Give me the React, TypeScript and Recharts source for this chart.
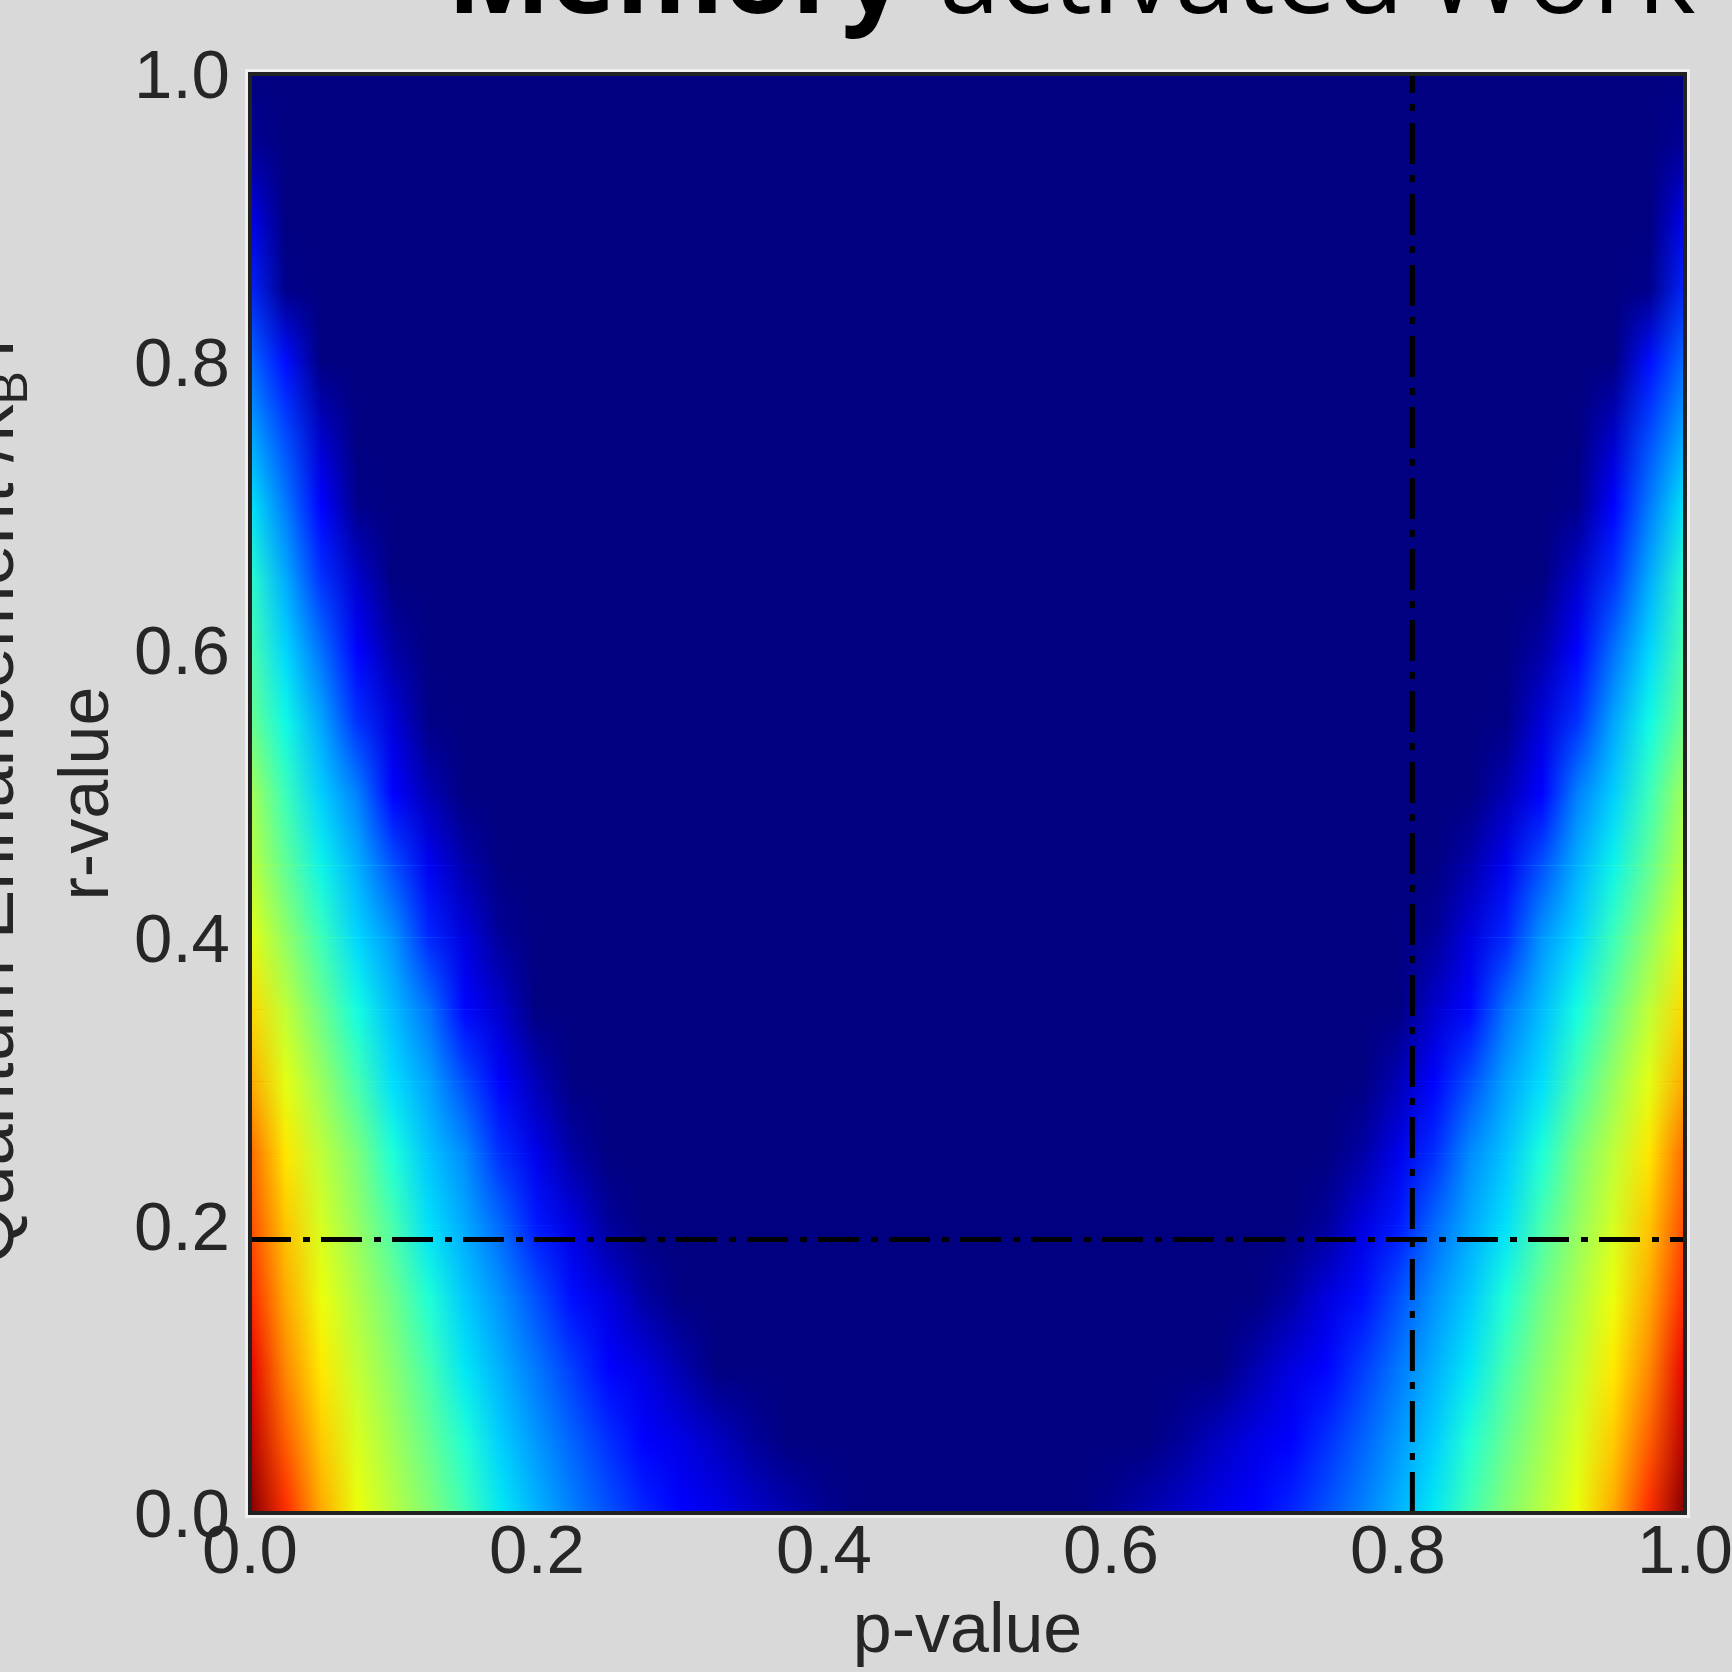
import { ScatterChart, Scatter, XAxis, YAxis, ReferenceArea, ReferenceLine } from 'recharts'

// heat map is mirror-symmetric about p = 0.5, so only the left half is stored
const P_HALF = [0, 0.025, 0.05, 0.075, 0.1, 0.125, 0.15, 0.175, 0.2, 0.225, 0.25, 0.275, 0.3, 0.325, 0.35, 0.375, 0.4, 0.425, 0.45, 0.475, 0.5]
const R_ROWS = [0, 0.05, 0.1, 0.15, 0.2, 0.25, 0.3, 0.35, 0.4, 0.45, 0.5, 0.55, 0.6, 0.65, 0.7, 0.75, 0.8, 0.85, 0.9, 0.95, 1]

// colour value (0..1) at each P_HALF column, one array per r row
const V_R000 = [1.0, 0.865, 0.73, 0.637, 0.572, 0.508, 0.43, 0.354, 0.3, 0.251, 0.205, 0.16, 0.117, 0.092, 0.066, 0.041, 0.015, 0, 0, 0, 0]
const V_R005 = [0.95, 0.81, 0.695, 0.613, 0.545, 0.473, 0.39, 0.326, 0.273, 0.221, 0.171, 0.12, 0.088, 0.057, 0.025, 0, 0, 0, 0, 0, 0]
const V_R010 = [0.91, 0.765, 0.662, 0.586, 0.517, 0.434, 0.351, 0.297, 0.242, 0.184, 0.127, 0.083, 0.042, 0, 0, 0, 0, 0, 0, 0, 0]
const V_R015 = [0.87, 0.73, 0.636, 0.56, 0.484, 0.387, 0.321, 0.267, 0.202, 0.136, 0.081, 0.03, 0, 0, 0, 0, 0, 0, 0, 0, 0]
const V_R020 = [0.83, 0.7, 0.608, 0.529, 0.436, 0.345, 0.29, 0.226, 0.148, 0.082, 0.024, 0, 0, 0, 0, 0, 0, 0, 0, 0, 0]
const V_R025 = [0.8, 0.665, 0.58, 0.5, 0.383, 0.316, 0.26, 0.168, 0.091, 0.031, 0, 0, 0, 0, 0, 0, 0, 0, 0, 0, 0]
const V_R030 = [0.73, 0.625, 0.535, 0.434, 0.341, 0.283, 0.2, 0.108, 0.045, 0, 0, 0, 0, 0, 0, 0, 0, 0, 0, 0, 0]
const V_R035 = [0.68, 0.581, 0.479, 0.373, 0.308, 0.238, 0.129, 0.063, 0, 0, 0, 0, 0, 0, 0, 0, 0, 0, 0, 0, 0]
const V_R040 = [0.63, 0.525, 0.422, 0.334, 0.27, 0.162, 0.081, 0.02, 0, 0, 0, 0, 0, 0, 0, 0, 0, 0, 0, 0, 0]
const V_R045 = [0.58, 0.467, 0.364, 0.297, 0.203, 0.098, 0.037, 0, 0, 0, 0, 0, 0, 0, 0, 0, 0, 0, 0, 0, 0]
const V_R050 = [0.55, 0.42, 0.326, 0.25, 0.117, 0.044, 0, 0, 0, 0, 0, 0, 0, 0, 0, 0, 0, 0, 0, 0, 0]
const V_R055 = [0.48, 0.369, 0.286, 0.172, 0.077, 0.006, 0, 0, 0, 0, 0, 0, 0, 0, 0, 0, 0, 0, 0, 0, 0]
const V_R060 = [0.44, 0.334, 0.234, 0.11, 0.032, 0, 0, 0, 0, 0, 0, 0, 0, 0, 0, 0, 0, 0, 0, 0, 0]
const V_R065 = [0.4, 0.292, 0.172, 0.065, 0, 0, 0, 0, 0, 0, 0, 0, 0, 0, 0, 0, 0, 0, 0, 0, 0]
const V_R070 = [0.35, 0.245, 0.12, 0.009, 0, 0, 0, 0, 0, 0, 0, 0, 0, 0, 0, 0, 0, 0, 0, 0, 0]
const V_R075 = [0.29, 0.197, 0.06, 0, 0, 0, 0, 0, 0, 0, 0, 0, 0, 0, 0, 0, 0, 0, 0, 0, 0]
const V_R080 = [0.23, 0.138, 0, 0, 0, 0, 0, 0, 0, 0, 0, 0, 0, 0, 0, 0, 0, 0, 0, 0, 0]
const V_R085 = [0.16, 0.01, 0, 0, 0, 0, 0, 0, 0, 0, 0, 0, 0, 0, 0, 0, 0, 0, 0, 0, 0]
const V_R090 = [0.09, 0, 0, 0, 0, 0, 0, 0, 0, 0, 0, 0, 0, 0, 0, 0, 0, 0, 0, 0, 0]
const V_R095 = [0.02, 0, 0, 0, 0, 0, 0, 0, 0, 0, 0, 0, 0, 0, 0, 0, 0, 0, 0, 0, 0]
const V_R100 = [0, 0, 0, 0, 0, 0, 0, 0, 0, 0, 0, 0, 0, 0, 0, 0, 0, 0, 0, 0, 0]

const HEAT_HALF = [V_R000, V_R005, V_R010, V_R015, V_R020, V_R025, V_R030, V_R035, V_R040, V_R045, V_R050,
  V_R055, V_R060, V_R065, V_R070, V_R075, V_R080, V_R085, V_R090, V_R095, V_R100]

// dash-dot guide lines
const P_CUT = 0.81
const R_CUT = 0.19
const CROSS = [{ p: P_CUT, r: R_CUT }]

const X_TICKS = [0, 0.2, 0.4, 0.6, 0.8, 1]
const Y_TICKS = [0, 0.2, 0.4, 0.6, 0.8, 1]

const BG = '#d9d9d9'
const INK = '#262626'
const FONT = '"Liberation Sans", Arial, sans-serif'

const P_FULL = [...P_HALF, ...P_HALF.slice(0, -1).reverse().map((p) => 1 - p)]
const mirror = (half: number[]) => [...half, ...half.slice(0, -1).reverse()]

// matplotlib jet segment data
const JET_R = [[0, 0], [0.35, 0], [0.66, 1], [0.89, 1], [1, 0.5]]
const JET_G = [[0, 0], [0.125, 0], [0.375, 1], [0.64, 1], [0.91, 0], [1, 0]]
const JET_B = [[0, 0.5], [0.11, 1], [0.34, 1], [0.65, 0], [1, 0]]

function channel(pts: number[][], v: number) {
  for (let i = 1; i < pts.length; i++) {
    if (v <= pts[i][0]) {
      const [x0, y0] = pts[i - 1]
      const [x1, y1] = pts[i]
      return y0 + ((y1 - y0) * (v - x0)) / (x1 - x0)
    }
  }
  return pts[pts.length - 1][1]
}

function jet(v: number) {
  const c = Math.max(0, Math.min(1, v))
  const to = (x: number) => Math.round(255 * x)
  return `rgb(${to(channel(JET_R, c))},${to(channel(JET_G, c))},${to(channel(JET_B, c))})`
}

function HeatDefs() {
  return (
    <svg width={0} height={0} style={{ position: 'absolute' }}>
      <defs>
        {HEAT_HALF.map((half, i) => (
          <linearGradient key={i} id={`heat-row-${i}`} x1="0" y1="0" x2="1" y2="0">
            {mirror(half).map((v, j) => (
              <stop key={j} offset={P_FULL[j]} stopColor={jet(v)} />
            ))}
          </linearGradient>
        ))}
        <linearGradient id="fade-up" x1="0" y1="0" x2="0" y2="1">
          <stop offset="0" stopColor="#fff" stopOpacity={1} />
          <stop offset="1" stopColor="#fff" stopOpacity={0} />
        </linearGradient>
        <mask id="fade-mask" maskContentUnits="objectBoundingBox">
          <rect x="0" y="0" width="1" height="1" fill="url(#fade-up)" />
        </mask>
      </defs>
    </svg>
  )
}

const bandShape = (row: number, blend: boolean) => (props: any) => (
  <rect
    x={props.x}
    y={props.y}
    width={props.width}
    height={props.height}
    fill={`url(#heat-row-${row})`}
    mask={blend ? 'url(#fade-mask)' : undefined}
    shapeRendering="crispEdges"
  />
)

const tickStyle = { fill: INK, fontSize: 69, fontFamily: FONT }

// plot frame, drawn as reference lines so it sits above the heat bands
const FRAME = [
  [{ x: 0, y: 0 }, { x: 1, y: 0 }],
  [{ x: 1, y: 0 }, { x: 1, y: 1 }],
  [{ x: 1, y: 1 }, { x: 0, y: 1 }],
  [{ x: 0, y: 1 }, { x: 0, y: 0 }],
]

export default function App() {
  return (
    <div style={{ position: 'absolute', left: 0, top: 0, width: 1732, height: 1672, background: BG, overflow: 'hidden' }}>
      <HeatDefs />
      <ScatterChart width={1732} height={1672} margin={{ top: 74, right: 47, bottom: 0, left: 0 }}>
        <XAxis
          type="number"
          dataKey="p"
          domain={[0, 1]}
          ticks={X_TICKS}
          interval={0}
          tickFormatter={(v) => v.toFixed(1)}
          height={159}
          axisLine={false}
          tickLine={false}
          tickSize={0}
          tickMargin={11}
          tick={tickStyle}
          label={{ value: 'p-value', position: 'insideBottom', offset: 20, fill: INK, fontSize: 70, fontFamily: FONT }}
        />
        <YAxis
          type="number"
          dataKey="r"
          domain={[0, 1]}
          ticks={Y_TICKS}
          interval={0}
          tickFormatter={(v) => v.toFixed(1)}
          width={250}
          axisLine={false}
          tickLine={false}
          tickSize={0}
          tickMargin={20}
          tick={tickStyle}
          label={{
            value: 'r-value',
            angle: -90,
            position: 'insideLeft',
            offset: 83,
            fill: INK,
            fontSize: 70,
            fontFamily: FONT,
            style: { textAnchor: 'middle' },
          }}
        />
        <ReferenceArea x1={0} x2={1} y1={0} y2={1} ifOverflow="visible" fill="none" stroke="#efefef" strokeWidth={10} />
        <ReferenceArea x1={0} x2={1} y1={0} y2={1} fill={jet(0)} fillOpacity={1} />
        {R_ROWS.slice(0, -1).map((r0, i) => (
          <ReferenceArea key={`base-${i}`} x1={0} x2={1} y1={r0} y2={R_ROWS[i + 1]} shape={bandShape(i, false)} />
        ))}
        {R_ROWS.slice(0, -1).map((r0, i) => (
          <ReferenceArea key={`blend-${i}`} x1={0} x2={1} y1={r0} y2={R_ROWS[i + 1]} shape={bandShape(i + 1, true)} />
        ))}
        <ReferenceLine
          segment={[{ x: 0, y: R_CUT }, { x: 1, y: R_CUT }]}
          stroke="#000"
          strokeWidth={5}
          strokeDasharray="41 12 7 11"
        />
        <ReferenceLine
          segment={[{ x: P_CUT, y: 0 }, { x: P_CUT, y: 1 }]}
          stroke="#000"
          strokeWidth={5}
          strokeDasharray="41 12 7 11"
        />
        {FRAME.map((seg, i) => (
          <ReferenceLine
            key={`frame-${i}`}
            segment={seg}
            ifOverflow="visible"
            stroke="#222222"
            strokeWidth={4}
            strokeLinecap="square"
          />
        ))}
        <Scatter data={CROSS} shape={() => <g />} isAnimationActive={false} />
      </ScatterChart>
      <svg width={1732} height={1672} style={{ position: 'absolute', left: 0, top: 0, pointerEvents: 'none' }}>
        <text y={13} fontFamily='"Open Sans", sans-serif' fontSize={110} fill="#000">
          <tspan x={447} fontWeight="bold">Memory</tspan>
          <tspan x={939}>activated</tspan>
          <tspan x={1425}>Work</tspan>
        </text>
        <text
          x={13}
          y={795}
          transform="rotate(-90, 13, 795)"
          textAnchor="middle"
          fontFamily={FONT}
          fontSize={74}
          fill={INK}
        >
          Quantum Enhancement /k
          <tspan fontSize={50} dy={14}>B</tspan>
          <tspan dy={-14}>T</tspan>
        </text>
      </svg>
    </div>
  )
}
